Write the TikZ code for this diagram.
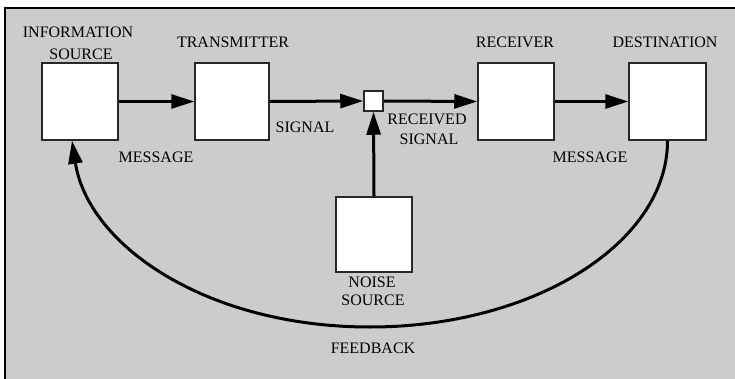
\documentclass[tikz,border=0pt]{standalone}
\usepackage{fontspec}
\setmainfont{Liberation Serif}
\usetikzlibrary{arrows.meta}
\definecolor{bggray}{RGB}{204,204,204}
\definecolor{boxline}{RGB}{40,40,40}
\tikzset{
  blockbox/.style={draw=boxline, line width=1.5pt, fill=white, minimum width=76pt, minimum height=77pt, inner sep=0pt},
  lbl/.style={anchor=base, inner sep=0pt, font=\fontsize{16}{18}\selectfont},
  flow/.style={line width=3pt, -{Triangle[length=23pt,width=14pt]}},
}
\begin{document}
\begin{tikzpicture}[x=1pt,y=-1pt]
\useasboundingbox (0,0) rectangle (735,379);
\fill[white] (0,0) rectangle (735,379);
\fill[bggray] (5,8) rectangle (735,379);
\draw[line width=2.5pt] (735,8) -- (5,8) -- (5,379);

\node[blockbox] (info) at (80,101.5) {};
\node[blockbox, minimum width=74pt] (trans) at (232,101.5) {};
\node[blockbox, minimum width=19pt, minimum height=20pt] (junc) at (373.5,101) {};
\node[blockbox] (recv) at (516,101.5) {};
\node[blockbox, minimum width=77pt] (dest) at (667.5,101.5) {};
\node[blockbox, minimum height=75pt] (noise) at (374,234.5) {};

\node[lbl] (tInfo1) at (78,38) {INFORMATION};
\node[lbl] (tInfo2) at (81,60) {SOURCE};
\node[lbl] (tTrans) at (233,48) {TRANSMITTER};
\node[lbl] (tRecv) at (515,48) {RECEIVER};
\node[lbl] (tDest) at (665,48) {DESTINATION};
\node[lbl] (tSig) at (305,133) {SIGNAL};
\node[lbl] (tMsg1) at (156,163) {MESSAGE};
\node[lbl] (tRs1) at (427,125) {RECEIVED};
\node[lbl] (tRs2) at (429,145) {SIGNAL};
\node[lbl] (tMsg2) at (590,163) {MESSAGE};
\node[lbl] (tNoise1) at (372,287) {NOISE};
\node[lbl] (tNoise2) at (373,305) {SOURCE};
\node[lbl] (tFeed) at (373,353) {FEEDBACK};

\draw[flow] (info.east) -- (trans.west);
\draw[flow] (trans.east) -- (junc.west);
\draw[flow] (junc.east) -- (recv.west);
\draw[flow] (recv.east) -- (dest.west);
\draw[flow] (noise.north) -- (junc.south);

\coordinate (fbBottom) at (370,327);
\draw[flow] (dest.south) .. controls (667.5,243) and (534,327) .. (fbBottom)
  .. controls (206,327) and (88,245) .. ([xshift=-8pt]info.south);
\end{tikzpicture}
\end{document}
